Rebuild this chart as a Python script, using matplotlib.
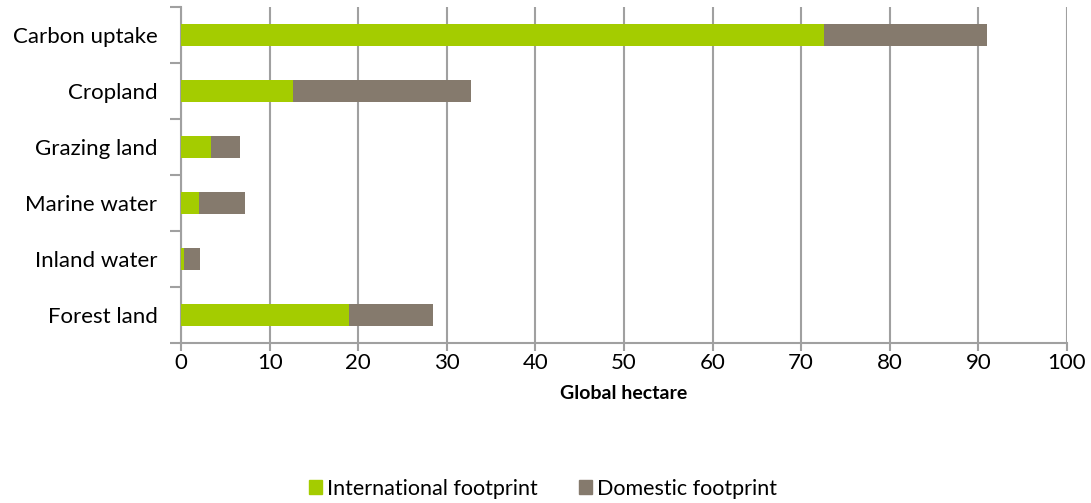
import numpy as np
import matplotlib.pyplot as plt
from matplotlib.patches import Patch

plt.rcParams['font.family'] = ['Lato', 'DejaVu Sans']

categories = ['Carbon uptake', 'Cropland', 'Grazing land', 'Marine water',
              'Inland water', 'Forest land']
international = [72.6, 12.6, 3.4, 2.0, 0.3, 19.0]
domestic = [18.4, 20.1, 3.3, 5.2, 1.9, 9.5]
xticks = [0, 10, 20, 30, 40, 50, 60, 70, 80, 90, 100]

green = '#a4cc00'
brown = '#857a6d'
grid_col = '#a0a0a0'

fig = plt.figure(figsize=(10.91, 5.03), dpi=100)
ax = fig.add_axes([0.1659, 0.318, 0.812, 0.668])

y = np.arange(len(categories))[::-1]
ax.barh(y, international, height=0.39, color=green, zorder=3)
ax.barh(y, domestic, left=international, height=0.39, color=brown, zorder=3)

ax.set_xlim(0, 100)
ax.set_ylim(-0.5, len(categories) - 0.5)
ax.set_xticks(xticks)
ax.tick_params(axis='x', length=6, width=1.5, color=grid_col, labelsize=16, pad=1)

ax.set_yticks(y)
ax.set_yticklabels(categories)
ax.tick_params(axis='y', length=0, labelsize=16, pad=17)
# boundary ticks between categories
ax.set_yticks(np.arange(-0.5, len(categories)), minor=True)
ax.tick_params(axis='y', which='minor', length=8, width=1.5, color=grid_col)

ax.grid(axis='x', color=grid_col, linewidth=1.5, zorder=0)
for side in ['top', 'right']:
    ax.spines[side].set_visible(False)
for side in ['left', 'bottom']:
    ax.spines[side].set_color(grid_col)
    ax.spines[side].set_linewidth(1.5)

ax.set_xlabel('Global hectare', fontsize=14, fontweight='bold', labelpad=9)

handles = [Patch(color=green, label='International footprint'),
           Patch(color=brown, label='Domestic footprint')]
fig.legend(handles=handles, loc='center', bbox_to_anchor=(0.498, 0.028), ncol=2,
           frameon=False, fontsize=15.5, handlelength=0.6, handleheight=0.6,
           handletextpad=0.25, columnspacing=1.9)

fig.savefig('out.png', dpi=100)
